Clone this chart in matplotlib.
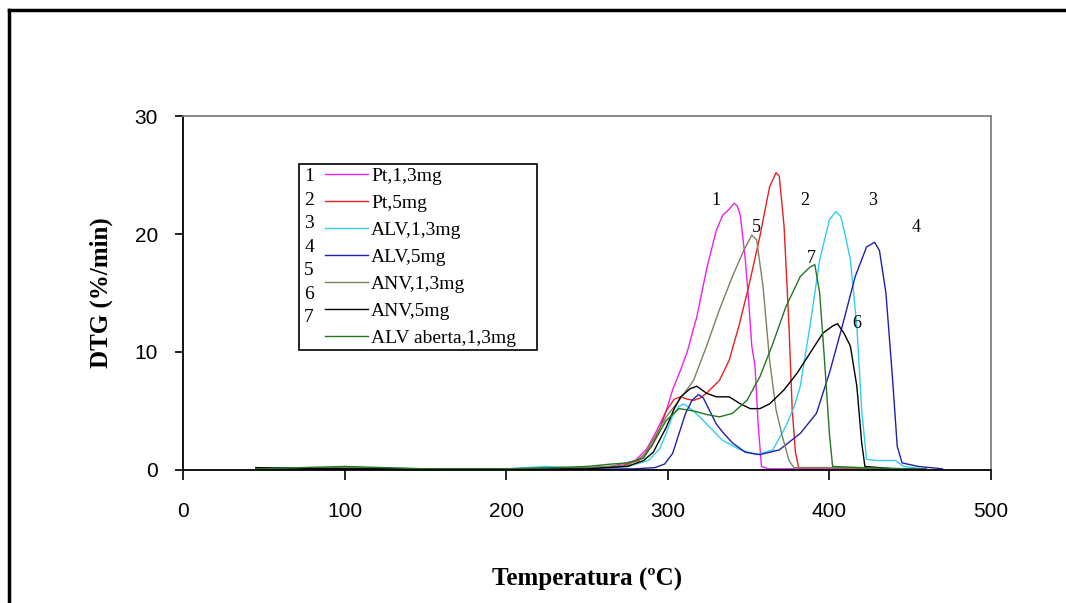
import matplotlib
matplotlib.use("Agg")
import matplotlib.pyplot as plt
from matplotlib.lines import Line2D
from matplotlib.patches import Rectangle

# DTG curves (temperature in ºC, DTG in %/min)
t_pt13 = [45, 80, 120, 160, 200, 240, 265, 280, 287, 293, 299, 303, 308, 312, 318, 324, 330, 334, 338, 341, 343, 345, 348, 350, 352, 354, 356, 358, 362, 380, 420, 460]
d_pt13 = [0.05, 0.1, 0.05, 0.1, 0.05, 0.1, 0.3, 0.8, 1.8, 3.3, 5.0, 6.8, 8.5, 10.0, 13.0, 17.0, 20.3, 21.6, 22.1, 22.6, 22.4, 21.5, 17.8, 14.4, 10.5, 8.8, 3.7, 0.3, 0.1, 0.1, 0.1, 0.05]

t_pt5 = [45, 100, 150, 200, 250, 270, 282, 290, 295, 299, 304, 308, 312, 316, 320, 324, 332, 338, 344, 350, 357, 363, 367, 369, 372, 375, 377, 379, 381, 400, 440, 460]
d_pt5 = [0.05, 0.1, 0.05, 0.1, 0.15, 0.3, 0.8, 2.0, 3.5, 5.0, 6.0, 6.2, 6.0, 5.9, 6.1, 6.5, 7.6, 9.3, 12.2, 15.5, 19.8, 24.0, 25.2, 24.9, 20.6, 12.2, 5.1, 1.5, 0.2, 0.2, 0.1, 0.05]

t_alv13 = [45, 100, 150, 200, 225, 250, 275, 288, 295, 299, 303, 307, 310, 314, 319, 324, 334, 345, 355, 365, 373, 378, 382, 388, 394, 400, 404, 407, 410, 413, 417, 420, 423, 430, 441, 446, 460]
d_alv13 = [0.05, 0.1, 0.05, 0.1, 0.3, 0.1, 0.3, 0.8, 1.8, 3.1, 4.6, 5.4, 5.6, 5.2, 4.6, 3.9, 2.5, 1.7, 1.3, 1.7, 3.7, 5.3, 7.1, 12.2, 17.8, 21.2, 21.9, 21.5, 19.8, 17.8, 12.2, 5.1, 0.9, 0.8, 0.8, 0.3, 0.05]

t_alv5 = [45, 100, 150, 200, 250, 280, 292, 298, 303, 307, 311, 315, 319, 322, 326, 330, 334, 340, 348, 357, 369, 382, 392, 400, 408, 416, 423, 428, 431, 435, 439, 442, 445, 455, 470]
d_alv5 = [0.05, 0.05, 0.1, 0.05, 0.05, 0.1, 0.2, 0.5, 1.4, 3.1, 4.8, 5.9, 6.4, 6.1, 5.0, 3.9, 3.2, 2.3, 1.5, 1.3, 1.7, 3.1, 4.8, 8.2, 12.2, 16.4, 18.9, 19.3, 18.6, 15.0, 7.9, 2.0, 0.6, 0.3, 0.1]

t_anv13 = [45, 100, 150, 200, 250, 275, 285, 292, 299, 307, 316, 324, 332, 340, 347, 352, 355, 359, 363, 367, 371, 375, 378, 400, 440, 460]
d_anv13 = [0.1, 0.2, 0.1, 0.1, 0.2, 0.4, 1.2, 2.8, 4.5, 5.9, 7.6, 10.5, 13.6, 16.4, 18.6, 19.9, 19.5, 15.5, 9.3, 5.1, 2.8, 0.8, 0.2, 0.2, 0.1, 0.05]

t_anv5 = [45, 100, 150, 200, 250, 275, 285, 291, 299, 304, 308, 314, 318, 324, 330, 338, 345, 351, 357, 363, 372, 380, 388, 396, 402, 405, 409, 413, 417, 420, 422, 440, 460]
d_anv5 = [0.2, 0.1, 0.1, 0.05, 0.1, 0.3, 0.8, 1.5, 3.6, 5.2, 6.2, 6.9, 7.1, 6.5, 6.2, 6.2, 5.6, 5.2, 5.2, 5.6, 6.8, 8.2, 9.9, 11.6, 12.2, 12.4, 11.6, 10.5, 7.1, 2.3, 0.3, 0.1, 0.05]

t_aberta = [45, 100, 150, 200, 230, 250, 265, 275, 285, 292, 299, 307, 316, 324, 332, 340, 349, 357, 365, 373, 382, 388, 391, 394, 397, 400, 402, 420, 450, 460]
d_aberta = [0.1, 0.3, 0.1, 0.1, 0.2, 0.3, 0.5, 0.6, 1.0, 2.5, 4.2, 5.2, 5.0, 4.7, 4.5, 4.8, 5.9, 7.9, 10.7, 13.8, 16.4, 17.2, 17.4, 15.0, 9.3, 3.1, 0.3, 0.2, 0.1, 0.05]

labels = ["Pt,1,3mg", "Pt,5mg", "ALV,1,3mg", "ALV,5mg", "ANV,1,3mg", "ANV,5mg", "ALV aberta,1,3mg"]
numbers = ["1", "2", "3", "4", "5", "6", "7"]
colors = ["#f020f0", "#e82020", "#33ccee", "#2020b0", "#807f60", "#000000", "#227722"]
temps = [t_pt13, t_pt5, t_alv13, t_alv5, t_anv13, t_anv5, t_aberta]
dtgs = [d_pt13, d_pt5, d_alv13, d_alv5, d_anv13, d_anv5, d_aberta]

# where each curve number is written (T, DTG)
tag_pos = [(330, 22.1), (385, 22.1), (427, 22.1), (454, 19.8), (355, 19.8), (417, 11.7), (389, 17.2)]

serif = ["Liberation Serif", "DejaVu Serif"]
sans = ["Liberation Sans", "DejaVu Sans"]

fig = plt.figure(figsize=(10.66, 6.03), dpi=100)
ax = fig.add_axes([0.1717, 0.2206, 0.7579, 0.5870])

for t, d, c in zip(temps, dtgs, colors):
    ax.plot(t, d, color=c, lw=1.0)

for (tx, ty), n in zip(tag_pos, numbers):
    ax.text(tx, ty, n, family=serif, fontsize=13, ha="center", va="bottom")

ax.set_xlim(0, 500)
ax.set_ylim(0, 30)
ax.set_xticks(range(0, 501, 100))
ax.set_yticks(range(0, 31, 10))
ax.tick_params(axis="x", direction="out", length=7, width=1.2, pad=16, labelsize=15)
ax.tick_params(axis="y", direction="out", length=6, width=1.2, pad=12, labelsize=15)
for lab in ax.get_xticklabels() + ax.get_yticklabels():
    lab.set_family(sans)

for side in ["left", "bottom"]:
    ax.spines[side].set_color("black")
    ax.spines[side].set_linewidth(1.3)
for side in ["top", "right"]:
    ax.spines[side].set_color("#808080")
    ax.spines[side].set_linewidth(1.3)

ax.set_xlabel("Temperatura (ºC)", family=serif, fontsize=18, fontweight="bold")
ax.set_ylabel("DTG (%/min)", family=serif, fontsize=18, fontweight="bold")
ax.xaxis.set_label_coords(0.5, -0.277)
ax.yaxis.set_label_coords(-0.087, 0.5)

# legend box with number column on the left
ax.add_patch(Rectangle((0.1436, 0.339), 0.2945, 0.525, transform=ax.transAxes,
                       fill=False, edgecolor="black", lw=1.2, zorder=5))
handles = [Line2D([], [], color=c, lw=1.0) for c in colors]
leg = ax.legend(handles, labels, loc="upper left", bbox_to_anchor=(0.176, 0.855),
                frameon=False, borderpad=0, borderaxespad=0, handlelength=2.2,
                handletextpad=0.15, labelspacing=0.48, prop={"family": serif, "size": 14})
for i, n in enumerate(numbers):
    ax.text(0.156, 0.829 - i * 0.0665, n, transform=ax.transAxes, family=serif,
            fontsize=14, ha="center", va="center")

# outer frame lines
fig.add_artist(Line2D([0.0085, 1.0], [0.983, 0.983], color="black", lw=2.5, transform=fig.transFigure))
fig.add_artist(Line2D([0.0085, 0.0085], [0.0, 0.983], color="black", lw=2.5, transform=fig.transFigure))

fig.savefig("out.png", dpi=100)
